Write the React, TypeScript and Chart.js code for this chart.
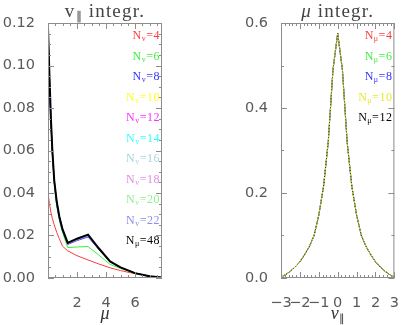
import React, { useEffect, useRef } from "react";
import { Chart, registerables } from "chart.js";

Chart.register(...registerables);

// ---------- Left panel data (v_parallel integrated, vs mu) ----------
const muGrid = [0, 0.1, 0.2, 0.3, 0.43, 0.6, 0.78, 1.0, 1.36, 2.0, 2.76, 3.5, 4.28, 5.0, 6.0, 7.0, 7.86];
const nv4 = [0.040, 0.035, 0.031, 0.028, 0.025, 0.0215, 0.0185, 0.015, 0.0128, 0.0105, 0.0085, 0.0066, 0.0048, 0.0035, 0.0020, 0.0009, 0.0002];
const nv6 = [0.115, 0.092, 0.073, 0.058, 0.044, 0.034, 0.027, 0.0215, 0.0143, 0.0146, 0.0148, 0.0108, 0.0064, 0.0045, 0.0021, 0.0007, 0.0002];
const nv8 = [0.104, 0.090, 0.073, 0.059, 0.045, 0.035, 0.028, 0.0222, 0.0158, 0.0176, 0.0193, 0.0135, 0.0076, 0.0049, 0.0023, 0.0008, 0.0002];
const nv10 = [0.117, 0.094, 0.074, 0.060, 0.046, 0.036, 0.029, 0.0228, 0.0162, 0.0181, 0.0199, 0.0138, 0.0077, 0.0050, 0.0023, 0.0008, 0.0002];
const nv12 = [0.117, 0.094, 0.075, 0.060, 0.046, 0.036, 0.029, 0.0229, 0.0163, 0.0183, 0.0201, 0.0139, 0.0078, 0.0050, 0.0023, 0.0008, 0.0002];
const nv14 = [0.117, 0.095, 0.075, 0.060, 0.046, 0.036, 0.029, 0.0229, 0.0164, 0.0184, 0.0202, 0.0139, 0.0078, 0.0050, 0.0023, 0.0008, 0.0002];
const nv16 = [0.118, 0.095, 0.075, 0.060, 0.046, 0.036, 0.029, 0.0230, 0.0164, 0.0184, 0.0203, 0.0140, 0.0078, 0.0050, 0.0023, 0.0008, 0.0002];
const nv18 = [0.118, 0.095, 0.075, 0.060, 0.046, 0.036, 0.029, 0.0230, 0.0165, 0.0185, 0.0203, 0.0140, 0.0078, 0.0050, 0.0023, 0.0008, 0.0002];
const nv20 = [0.116, 0.094, 0.074, 0.059, 0.045, 0.035, 0.028, 0.0226, 0.0160, 0.0179, 0.0197, 0.0137, 0.0077, 0.0050, 0.0023, 0.0008, 0.0002];
const nv22 = [0.116, 0.094, 0.074, 0.059, 0.045, 0.035, 0.028, 0.0225, 0.0159, 0.0178, 0.0196, 0.0136, 0.0077, 0.0049, 0.0023, 0.0008, 0.0002];
const nmu48 = [0.118, 0.095, 0.075, 0.060, 0.046, 0.036, 0.029, 0.0230, 0.0165, 0.0185, 0.0204, 0.0140, 0.0078, 0.0050, 0.0023, 0.0008, 0.0002];

const leftLabels = ["4", "6", "8", "10", "12", "14", "16", "18", "20", "22", "48"];
const leftSubs = ["v", "v", "v", "v", "v", "v", "v", "v", "v", "v", "\u03bc"];
const leftColors = ["#ff3a3a", "#3cf03c", "#3434ff", "#ffff20", "#ff30ff", "#30ffff", "#a6d6d6", "#e08ee0", "#8ef08e", "#8e8ef0", "#000000"];
const leftSeries = [nv4, nv6, nv8, nv10, nv12, nv14, nv16, nv18, nv20, nv22, nmu48];
const leftXTicks = [2, 4, 6];

// ---------- Right panel data (mu integrated, vs v_parallel) ----------
const vGrid = [-3, -2.75, -2.5, -2.25, -2, -1.75, -1.5, -1.25, -1, -0.75, -0.5, -0.25, 0, 0.25, 0.5, 0.75, 1, 1.25, 1.5, 1.75, 2, 2.25, 2.5, 2.75, 3];
const nmu4 = [0.002, 0.008, 0.016, 0.026, 0.038, 0.055, 0.074, 0.100, 0.148, 0.215, 0.320, 0.490, 0.575, 0.490, 0.320, 0.215, 0.148, 0.100, 0.074, 0.055, 0.038, 0.026, 0.016, 0.008, 0.002];
const nmu6 = [0.002, 0.008, 0.016, 0.026, 0.038, 0.055, 0.074, 0.100, 0.148, 0.215, 0.320, 0.490, 0.576, 0.490, 0.320, 0.215, 0.148, 0.100, 0.074, 0.055, 0.038, 0.026, 0.016, 0.008, 0.002];
const nmu8 = [0.002, 0.008, 0.016, 0.026, 0.038, 0.055, 0.074, 0.100, 0.148, 0.215, 0.320, 0.490, 0.576, 0.490, 0.320, 0.215, 0.148, 0.100, 0.074, 0.055, 0.038, 0.026, 0.016, 0.008, 0.002];
const nmu10 = [0.002, 0.008, 0.016, 0.026, 0.038, 0.055, 0.074, 0.100, 0.148, 0.215, 0.320, 0.490, 0.576, 0.490, 0.320, 0.215, 0.148, 0.100, 0.074, 0.055, 0.038, 0.026, 0.016, 0.008, 0.002];
const nmu12 = [0.002, 0.008, 0.016, 0.026, 0.038, 0.055, 0.074, 0.100, 0.148, 0.215, 0.320, 0.490, 0.576, 0.490, 0.320, 0.215, 0.148, 0.100, 0.074, 0.055, 0.038, 0.026, 0.016, 0.008, 0.002];

const rightLabels = ["4", "6", "8", "10", "12"];
const rightSubs = ["\u03bc", "\u03bc", "\u03bc", "\u03bc", "\u03bc"];
const rightColors = ["#ff3a3a", "#3cf03c", "#3434ff", "#e8e830", "#000000"];
const rightSeries = [nmu4, nmu6, nmu8, nmu10, nmu12];
const rightXTicks = [-3, -2, -1, 0, 1, 2, 3];

const TICK_FONT = { family: "'DejaVu Sans', sans-serif", size: 14.5 };
const TICK_COLOR = "#5a5a5a";

type PanelCfg = {
  titleMain: string;
  titleSub: string;
  titleItalic: boolean;
  xTitleMain: string;
  xTitleSub: string;
  legendLabels: string[];
  legendSubs: string[];
  legendColors: string[];
  xMajor: number[];
  xMinorStep: number;
  xMin: number;
  xMax: number;
  yMax: number;
  yMajorStep: number;
  yMinorStep: number;
};

function makeDecorPlugin(cfg: PanelCfg) {
  return {
    id: "decor",
    afterDraw(chart: any) {
      const { ctx, chartArea } = chart;
      const { left, right, top, bottom } = chartArea;
      const xs = chart.scales.x;
      const ys = chart.scales.y;
      ctx.save();
      // frame
      ctx.strokeStyle = "#8c8c8c";
      ctx.lineWidth = 1;
      ctx.strokeRect(left + 0.5, top + 0.5, right - left - 1, bottom - top - 1);
      // x ticks (top and bottom)
      ctx.beginPath();
      const nx = Math.round((cfg.xMax - cfg.xMin) / cfg.xMinorStep) + 1;
      const startX = Math.ceil(cfg.xMin / cfg.xMinorStep) * cfg.xMinorStep;
      for (let i = 0; i < nx + 1; i++) {
        const v = startX + i * cfg.xMinorStep;
        if (v > cfg.xMax + 1e-9) break;
        const isMajor = Math.abs(v - Math.round(v)) < 1e-6 && cfg.xMajor.some((m) => Math.abs(m - v) < 1e-6);
        const len = isMajor ? 6 : 3;
        const px = Math.round(xs.getPixelForValue(v)) + 0.5;
        ctx.moveTo(px, bottom);
        ctx.lineTo(px, bottom - len);
        ctx.moveTo(px, top);
        ctx.lineTo(px, top + len);
      }
      // y ticks (left and right)
      const ny = Math.round(cfg.yMax / cfg.yMinorStep);
      for (let i = 0; i <= ny; i++) {
        const v = i * cfg.yMinorStep;
        const r = v / cfg.yMajorStep;
        const isMajor = Math.abs(r - Math.round(r)) < 1e-6;
        const len = isMajor ? 6 : 3;
        const py = Math.round(ys.getPixelForValue(v)) + 0.5;
        ctx.moveTo(left, py);
        ctx.lineTo(left + len, py);
        ctx.moveTo(right, py);
        ctx.lineTo(right - len, py);
      }
      ctx.stroke();

      // legend
      const mainFont = "12px 'Liberation Serif', serif";
      const subFont = "8px 'Liberation Serif', serif";
      (ctx as any).letterSpacing = "0.5px";
      for (let i = 0; i < cfg.legendLabels.length; i++) {
        const y = top + 12 + i * 20.5;
        const rest = "=" + cfg.legendLabels[i];
        ctx.font = mainFont;
        const wN = ctx.measureText("N").width;
        const wR = ctx.measureText(rest).width;
        ctx.font = subFont;
        const wS = ctx.measureText(cfg.legendSubs[i]).width;
        const total = wN + wS + wR;
        let x = right - 2 - total;
        ctx.fillStyle = cfg.legendColors[i];
        ctx.textBaseline = "alphabetic";
        ctx.textAlign = "left";
        ctx.font = mainFont;
        ctx.fillText("N", x, y + 4);
        x += wN;
        ctx.font = subFont;
        ctx.fillText(cfg.legendSubs[i], x, y + 6);
        x += wS;
        ctx.font = mainFont;
        ctx.fillText(rest, x, y + 4);
      }

      // title
      const cx = (left + right) / 2;
      const tMain = (cfg.titleItalic ? "italic " : "") + "19px 'Liberation Serif', serif";
      const tRest = "19px 'Liberation Serif', serif";
      const tSub = "12px 'Liberation Serif', serif";
      const restText = " integr.";
      (ctx as any).letterSpacing = "1.2px";
      ctx.font = tMain;
      const w1 = ctx.measureText(cfg.titleMain).width;
      ctx.font = tSub;
      const w2 = cfg.titleSub ? ctx.measureText(cfg.titleSub).width : 0;
      ctx.font = tRest;
      const w3 = ctx.measureText(restText).width;
      let tx = cx - (w1 + w2 + w3) / 2;
      const ty = 17;
      ctx.fillStyle = "#444";
      ctx.font = tMain;
      ctx.fillText(cfg.titleMain, tx, ty);
      tx += w1;
      if (cfg.titleSub) {
        ctx.font = tSub;
        ctx.fillText(cfg.titleSub, tx, ty + 3);
        tx += w2;
      }
      ctx.font = tRest;
      ctx.fillText(restText, tx, ty);
      (ctx as any).letterSpacing = "0px";

      // x axis title
      const xMainFont = "italic 18px 'Liberation Serif', serif";
      const xSubFont = "11px 'Liberation Serif', serif";
      ctx.font = xMainFont;
      const a1 = ctx.measureText(cfg.xTitleMain).width;
      ctx.font = xSubFont;
      const a2 = cfg.xTitleSub ? ctx.measureText(cfg.xTitleSub).width : 0;
      let ax = cx - (a1 + a2) / 2;
      const ay = 319;
      ctx.fillStyle = "#333";
      ctx.font = xMainFont;
      ctx.fillText(cfg.xTitleMain, ax, ay);
      ax += a1;
      if (cfg.xTitleSub) {
        ctx.font = xSubFont;
        ctx.fillText(cfg.xTitleSub, ax, ay + 3);
      }
      ctx.restore();
    },
  };
}

function buildChart(
  canvas: HTMLCanvasElement,
  xs: number[],
  series: number[][],
  colors: string[],
  cfg: PanelCfg,
  yAxisWidth: number,
  rightPad: number,
  yDecimals: number,
  styleFor: (i: number) => any
) {
  const datasets = series.map((s, i) => ({
    data: s.map((v, j) => ({ x: xs[j], y: v })),
    borderColor: colors[i],
    backgroundColor: colors[i],
    pointRadius: 0,
    tension: 0,
    fill: false,
    ...styleFor(i),
  }));
  return new Chart(canvas, {
    type: "line",
    data: { datasets },
    plugins: [makeDecorPlugin(cfg)],
    options: {
      animation: false,
      responsive: false,
      maintainAspectRatio: false,
      layout: { padding: { top: 23, right: rightPad, bottom: 0, left: 0 } },
      plugins: { legend: { display: false }, tooltip: { enabled: false } },
      scales: {
        x: {
          type: "linear",
          min: cfg.xMin,
          max: cfg.xMax,
          grid: { display: false },
          border: { display: false },
          afterBuildTicks: (scale: any) => {
            scale.ticks = cfg.xMajor.map((v) => ({ value: v }));
          },
          afterFit: (scale: any) => {
            scale.height = 47;
          },
          ticks: {
            autoSkip: false,
            maxRotation: 0,
            minRotation: 0,
            padding: 9,
            color: TICK_COLOR,
            font: TICK_FONT,
            callback: (v: any) => String(v).replace("-", "\u2212"),
          },
        },
        y: {
          type: "linear",
          min: 0,
          max: cfg.yMax,
          grid: { display: false },
          border: { display: false },
          afterFit: (scale: any) => {
            scale.width = yAxisWidth;
          },
          ticks: {
            stepSize: cfg.yMajorStep,
            padding: 5,
            color: TICK_COLOR,
            font: TICK_FONT,
            callback: (v: any) => Number(v).toFixed(yDecimals),
          },
        },
      },
    },
  } as any);
}

export default function App() {
  const leftRef = useRef<HTMLCanvasElement>(null);
  const rightRef = useRef<HTMLCanvasElement>(null);

  useEffect(() => {
    const leftCfg: PanelCfg = {
      titleMain: "v",
      titleSub: "\u2225",
      titleItalic: false,
      xTitleMain: "\u03bc",
      xTitleSub: "",
      legendLabels: leftLabels,
      legendSubs: leftSubs,
      legendColors: leftColors,
      xMajor: leftXTicks,
      xMinorStep: 0.5,
      xMin: 0,
      xMax: 7.86,
      yMax: 0.12,
      yMajorStep: 0.02,
      yMinorStep: 0.005,
    };
    const rightCfg: PanelCfg = {
      titleMain: "\u03bc",
      titleSub: "",
      titleItalic: true,
      xTitleMain: "v",
      xTitleSub: "\u2225",
      legendLabels: rightLabels,
      legendSubs: rightSubs,
      legendColors: rightColors,
      xMajor: rightXTicks,
      xMinorStep: 0.2,
      xMin: -3,
      xMax: 3,
      yMax: 0.6,
      yMajorStep: 0.2,
      yMinorStep: 0.1,
    };
    const leftOrder = [4, 3, 2, 9, 8, 7, 6, 5, 10, 1, 0];
    const c1 = buildChart(leftRef.current!, muGrid, leftSeries, leftColors, leftCfg, 48, 42, 2, (i) => ({
      borderWidth: i === 10 ? 2 : 1,
      order: leftOrder[i],
    }));
    const rightOrder = [4, 3, 2, 1, 0];
    const c2 = buildChart(rightRef.current!, vGrid, rightSeries, rightColors, rightCfg, 77, 12, 1, (i) => ({
      borderWidth: i === 4 ? 0.8 : 1,
      borderDash: i === 4 ? [1, 2] : [],
      order: rightOrder[i],
    }));
    return () => {
      c1.destroy();
      c2.destroy();
    };
  }, []);

  return (
    <div style={{ position: "fixed", left: 0, top: 0, width: 408, height: 325, background: "#fff", display: "flex" }}>
      <div style={{ width: 204, height: 325 }}>
        <canvas ref={leftRef} width={204} height={325} style={{ display: "block" }} />
      </div>
      <div style={{ width: 204, height: 325 }}>
        <canvas ref={rightRef} width={204} height={325} style={{ display: "block" }} />
      </div>
    </div>
  );
}
